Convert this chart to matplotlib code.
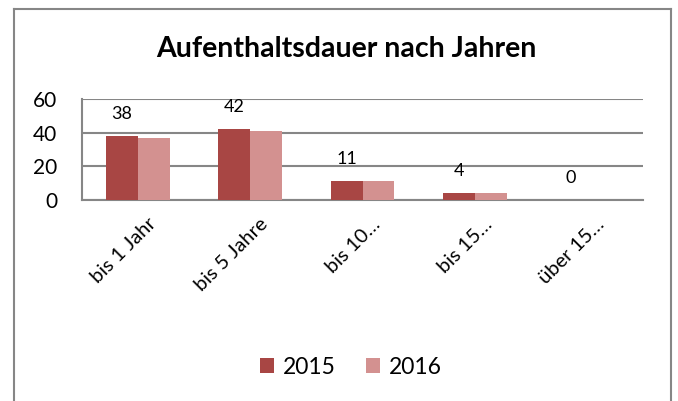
import numpy as np
import matplotlib
matplotlib.use("Agg")
import matplotlib.pyplot as plt
from matplotlib.lines import Line2D
import matplotlib.transforms as mtransforms

# Data
categories = ["bis 1 Jahr", "bis 5 Jahre", "bis 10…", "bis 15…", "über 15…"]
values_2015 = [38, 42, 11, 4, 0]
values_2016 = [37, 41, 11, 4, 0]
series_names = ["2015", "2016"]

col_2015 = "#A84644"
col_2016 = "#D39190"
grid_col = "#868686"

plt.rcParams["font.family"] = ["Lato", "DejaVu Sans"]

W, H = 678, 401
fig = plt.figure(figsize=(W / 100, H / 100), dpi=100)
fig.patch.set_facecolor("white")

# plot area in pixels: x 82..643, y 99..200
ax = fig.add_axes([82 / W, 1 - 200 / H, (643 - 82) / W, (200 - 99) / H])

x = np.arange(len(categories))
bw = 0.285
ax.bar(x - bw / 2, values_2015, bw, color=col_2015, label=series_names[0], zorder=3)
ax.bar(x + bw / 2, values_2016, bw, color=col_2016, label=series_names[1], zorder=3)

# data labels only for 2015
for xi, v in zip(x, values_2015):
    ax.annotate(str(v), (xi - bw / 2, v), xytext=(0, 16), textcoords="offset points",
                ha="center", va="center", fontsize=13, color="black")

ax.set_xlim(-0.5, len(categories) - 0.5)
ax.set_ylim(0, 60)
ax.set_yticks([0, 20, 40, 60])
ax.yaxis.grid(True, color=grid_col, linewidth=1.5, zorder=0)
ax.set_axisbelow(True)
for s in ["top", "right"]:
    ax.spines[s].set_visible(False)
for s in ["left", "bottom"]:
    ax.spines[s].set_color(grid_col)
    ax.spines[s].set_linewidth(1.5)
ax.tick_params(axis="y", length=0, pad=18, labelsize=15)
ax.tick_params(axis="x", length=0, pad=11, labelsize=14.5)
ax.set_xticks(x)
ax.set_xticklabels(categories, rotation=45, ha="right", rotation_mode="anchor")
shift = mtransforms.ScaledTranslation(9 / 100, 0, fig.dpi_scale_trans)
for lab in ax.get_xticklabels():
    lab.set_transform(lab.get_transform() + shift)

fig.text(346 / W, 1 - 57 / H, "Aufenthaltsdauer nach Jahren", ha="center",
         va="baseline", fontsize=20.5, fontweight="bold")

fig.legend(loc="center", bbox_to_anchor=(351 / W, 1 - 367 / H), ncol=2, frameon=False,
           fontsize=16.5, handlelength=0.6, handleheight=0.6, handletextpad=0.4,
           columnspacing=1.3)

# outer chart frame (bottom edge is cut off)
for xs, ys in [([13.5, 13.5], [H, 8.7]), ([13.5, 671], [8.7, 8.7]), ([671, 671], [8.7, H])]:
    fig.add_artist(Line2D([a / W for a in xs], [1 - b / H for b in ys], color=grid_col,
                          linewidth=1.5, transform=fig.transFigure))

fig.savefig("out.png", dpi=100)
